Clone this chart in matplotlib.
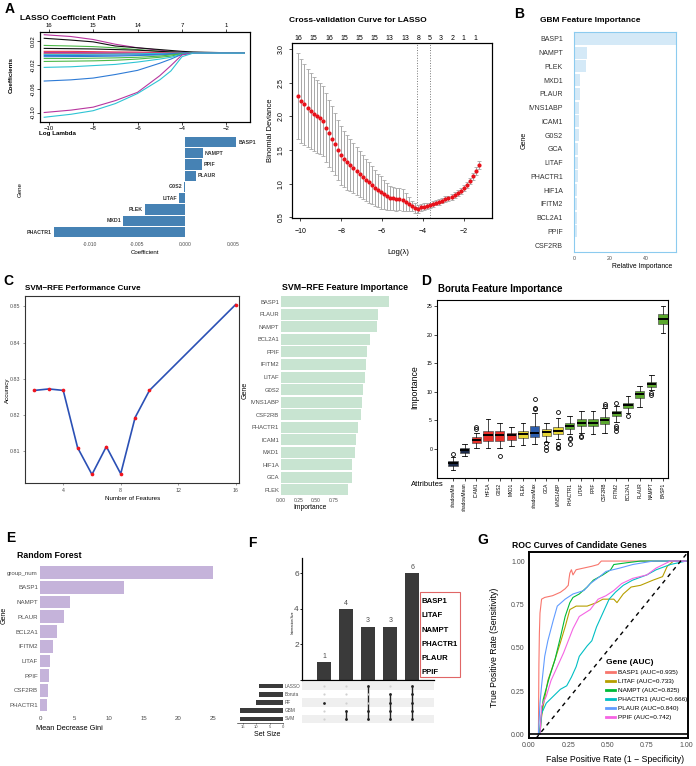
import matplotlib.pyplot as plt
import matplotlib.patches as patches
from matplotlib.lines import Line2D

plt.rcParams['font.family'] = ['Liberation Sans', 'DejaVu Sans']

# ---------------- DATA ----------------
# A: LASSO coefficient path (log lambda grid, one list per variable)
path_loglam = [-10.2, -9.0, -8.0, -7.0, -6.0, -5.0, -4.5, -4.0, -3.5, -3.0, -2.0, -1.2]
path_coefs = [
    [0.031, 0.028, 0.023, 0.015, 0.009, 0.005, 0.003, 0.0015, 0.0005, 0, 0, 0],
    [0.025, 0.022, 0.019, 0.012, 0.009, 0.006, 0.0045, 0.003, 0.002, 0.0015, 0.0007, 0],
    [0.013, 0.012, 0.011, 0.009, 0.006, 0.003, 0.002, 0.0005, 0, 0, 0, 0],
    [0.008, 0.0075, 0.007, 0.006, 0.005, 0.003, 0.002, 0.001, 0.0005, 0.0003, 0.0001, 0],
    [0.003, 0.003, 0.0025, 0.002, 0.0018, 0.001, 0.0005, 0.0001, 0, 0, 0, 0],
    [0.001, 0.001, 0.0008, 0.0005, 0.0003, 0.0001, 0, 0, 0, 0, 0, 0],
    [-0.001, -0.001, -0.0008, -0.0005, -0.0003, -0.0001, 0, 0, 0, 0, 0, 0],
    [-0.002, -0.002, -0.0018, -0.0015, -0.001, -0.0005, -0.0002, 0, 0, 0, 0, 0],
    [-0.004, -0.004, -0.0037, -0.0033, -0.0028, -0.002, -0.001, 0, 0, 0, 0, 0],
    [-0.006, -0.0058, -0.0055, -0.005, -0.004, -0.003, -0.002, -0.0005, 0, 0, 0, 0],
    [-0.009, -0.009, -0.0085, -0.008, -0.007, -0.005, -0.003, -0.001, 0, 0, 0, 0],
    [-0.014, -0.0135, -0.013, -0.012, -0.010, -0.007, -0.005, -0.001, 0, 0, 0, 0],
    [-0.024, -0.023, -0.021, -0.019, -0.015, -0.010, -0.007, -0.002, 0, 0, 0, 0],
    [-0.047, -0.045, -0.042, -0.036, -0.029, -0.017, -0.010, -0.002, 0, 0, 0, 0],
    [-0.100, -0.096, -0.091, -0.080, -0.066, -0.038, -0.021, -0.003, 0, 0, 0, 0],
    [-0.108, -0.103, -0.097, -0.085, -0.068, -0.045, -0.030, -0.006, 0, 0, 0, 0],
]
path_colors = ['#B8369F', '#111111', '#4CB848', '#111111', '#E8384F', '#B8369F', '#E8384F', '#2EC4D4',
               '#2E7BD6', '#2E7BD6', '#4CB848', '#4CB848', '#2EC4D4', '#2E7BD6', '#B8369F', '#2EC4D4']
path_top_nums = ['16', '15', '14', '7', '1']

# A: LASSO coefficients at lambda.min
lasso_genes = ['BASP1', 'NAMPT', 'PPIF', 'PLAUR', 'G0S2', 'LITAF', 'PLEK', 'MXD1', 'PHACTR1']
lasso_coef = [0.0054, 0.0019, 0.0018, 0.0011, -0.0001, -0.0006, -0.0042, -0.0065, -0.0138]

# A: cross-validation curve
cv_loglam = [-10.10, -9.95, -9.80, -9.65, -9.50, -9.35, -9.20, -9.05, -8.90, -8.75,
             -8.60, -8.45, -8.30, -8.15, -8.00, -7.85, -7.70, -7.55, -7.40, -7.25,
             -7.10, -6.95, -6.80, -6.65, -6.50, -6.35, -6.20, -6.05, -5.90, -5.75,
             -5.60, -5.45, -5.30, -5.15, -5.00, -4.85, -4.70, -4.55, -4.40, -4.25,
             -4.10, -3.95, -3.80, -3.65, -3.50, -3.35, -3.20, -3.05, -2.90, -2.75,
             -2.60, -2.45, -2.30, -2.15, -2.00, -1.85, -1.70, -1.55, -1.40, -1.25]
cv_mean = [2.30, 2.23, 2.18, 2.13, 2.08, 2.04, 2.00, 1.97, 1.93, 1.83,
           1.75, 1.67, 1.59, 1.50, 1.42, 1.37, 1.32, 1.28, 1.23, 1.19,
           1.14, 1.10, 1.06, 1.02, 0.98, 0.94, 0.90, 0.87, 0.84, 0.81,
           0.79, 0.78, 0.77, 0.77, 0.76, 0.73, 0.70, 0.67, 0.64, 0.63,
           0.65, 0.66, 0.67, 0.68, 0.70, 0.72, 0.73, 0.75, 0.77, 0.78,
           0.80, 0.83, 0.86, 0.89, 0.93, 0.98, 1.04, 1.11, 1.19, 1.28]
cv_sd = [0.64, 0.62, 0.60, 0.58, 0.57, 0.55, 0.54, 0.53, 0.52, 0.51,
         0.50, 0.48, 0.46, 0.45, 0.44, 0.42, 0.41, 0.39, 0.37, 0.36,
         0.34, 0.33, 0.31, 0.30, 0.28, 0.27, 0.25, 0.24, 0.22, 0.20,
         0.18, 0.17, 0.17, 0.16, 0.16, 0.13, 0.10, 0.08, 0.07, 0.06,
         0.05, 0.05, 0.045, 0.04, 0.04, 0.04, 0.04, 0.04, 0.04, 0.04,
         0.04, 0.04, 0.04, 0.045, 0.045, 0.05, 0.05, 0.055, 0.06, 0.06]
cv_top_pos = [-10.08, -9.35, -8.60, -7.84, -7.10, -6.38, -5.62, -4.88, -4.20, -3.69, -3.13, -2.57, -2.02, -1.43]
cv_top_nums = ['16', '15', '16', '15', '15', '15', '13', '13', '8', '5', '3', '2', '1', '1']
cv_lambda_min = -4.29
cv_lambda_1se = -3.67

# B: GBM relative influence
gbm_genes = ['BASP1', 'NAMPT', 'PLEK', 'MXD1', 'PLAUR', 'IVNS1ABP', 'ICAM1', 'G0S2',
             'GCA', 'LITAF', 'PHACTR1', 'HIF1A', 'IFITM2', 'BCL2A1', 'PPIF', 'CSF2RB']
gbm_imp = [57.0, 7.5, 6.5, 3.6, 3.2, 3.0, 2.8, 2.6, 2.5, 2.4, 2.1, 1.9, 1.7, 1.5, 1.4, 0.8]

# C: SVM-RFE
svm_nfeat = [2, 3, 4, 5, 6, 7, 8, 9, 10, 16]
svm_acc = [0.8268, 0.8272, 0.8268, 0.8110, 0.8036, 0.8113, 0.8038, 0.8193, 0.8268, 0.8505]
svm_genes = ['BASP1', 'PLAUR', 'NAMPT', 'BCL2A1', 'PPIF', 'IFITM2', 'LITAF', 'G0S2',
             'IVNS1ABP', 'CSF2RB', 'PHACTR1', 'ICAM1', 'MXD1', 'HIF1A', 'GCA', 'PLEK']
svm_imp = [1.54, 1.39, 1.37, 1.27, 1.23, 1.22, 1.21, 1.18, 1.16, 1.15, 1.10, 1.08, 1.06, 1.02, 1.02, 0.96]

# D: Boruta
boruta_attr = ['shadowMin', 'shadowMean', 'ICAM1', 'HIF1A', 'G0S2', 'MXD1', 'PLEK', 'shadowMax',
               'GCA', 'IVNS1ABP', 'PHACTR1', 'LITAF', 'PPIF', 'CSF2RB', 'IFITM2', 'BCL2A1',
               'PLAUR', 'NAMPT', 'BASP1']
boruta_status = ['shadowlow', 'shadowlow', 'Rejected', 'Rejected', 'Rejected', 'Rejected', 'Tentative',
                 'shadow', 'Tentative', 'Tentative', 'Confirmed', 'Confirmed', 'Confirmed', 'Confirmed',
                 'Confirmed', 'Confirmed', 'Confirmed', 'Confirmed', 'Confirmed']
boruta_q1 = [-2.95, -0.64, 1.05, 1.46, 1.46, 1.52, 1.93, 2.10, 2.28, 2.57, 3.45, 4.03, 4.03, 4.32, 5.72, 7.07, 8.82, 10.86, 21.79]
boruta_med = [-2.55, -0.18, 1.52, 2.39, 2.34, 2.34, 2.57, 2.80, 2.98, 3.15, 4.03, 4.61, 4.61, 5.02, 6.19, 7.65, 9.58, 11.33, 22.66]
boruta_q3 = [-2.20, 0.18, 1.99, 3.15, 3.10, 2.80, 3.15, 4.03, 3.45, 3.86, 4.44, 5.14, 5.14, 5.60, 6.60, 8.06, 10.16, 11.74, 23.54]
boruta_wlo = [-3.70, -1.17, 0.18, 0.18, 0.18, 0.47, 0.76, 0.93, 1.23, 1.64, 2.57, 2.80, 2.57, 2.69, 4.73, 6.30, 7.24, 10.28, 20.33]
boruta_whi = [-1.50, 0.93, 2.86, 5.20, 4.56, 3.86, 4.60, 6.20, 4.56, 5.43, 5.78, 6.66, 6.60, 7.10, 7.53, 9.29, 11.04, 12.97, 25.00]
boruta_out = [[-0.90], [], [3.56, 3.80], [], [-1.17], [], [], [6.95, 7.18, 8.70],
              [1.05, 0.35, -0.23], [6.43, 0.88, 0.35, 0.18], [1.93, 1.80, 0.93], [2.22, 1.99], [],
              [7.50, 7.90], [8.10, 4.00, 3.60, 3.20], [5.72], [], [9.70, 9.50], []]

# E: Random forest
rf_genes = ['group_num', 'BASP1', 'NAMPT', 'PLAUR', 'BCL2A1', 'IFITM2', 'LITAF', 'PPIF', 'CSF2RB', 'PHACTR1']
rf_gini = [25.0, 12.1, 4.4, 3.45, 2.4, 1.9, 1.4, 1.3, 1.15, 1.05]

# F: UpSet
upset_sets = ['LASSO', 'Boruta', 'RF', 'GBM', 'SVM']
upset_set_size = [9, 9, 10, 16, 16]
upset_counts = [1, 4, 3, 3, 6]
upset_members = [['RF'], ['GBM', 'SVM'], ['LASSO', 'GBM', 'SVM'],
                 ['Boruta', 'RF', 'GBM', 'SVM'], ['LASSO', 'Boruta', 'RF', 'GBM', 'SVM']]
common_genes = ['BASP1', 'LITAF', 'NAMPT', 'PHACTR1', 'PLAUR', 'PPIF']

# G: ROC curves (fpr, tpr vertices)
roc_names = ['BASP1', 'LITAF', 'NAMPT', 'PHACTR1', 'PLAUR', 'PPIF']
roc_auc = ['0.935', '0.733', '0.825', '0.666', '0.840', '0.742']
roc_colors = ['#F8766D', '#B79F00', '#00BA38', '#00BFC4', '#619CFF', '#F564E3']
roc_fpr = [
    [0.06, 0.063, 0.066, 0.07, 0.08, 0.10, 0.15, 0.20, 0.23, 0.25, 0.255, 0.26, 0.27, 0.28, 0.30, 0.35, 0.40, 0.44, 0.46, 0.50, 1.0],
    [0.07, 0.08, 0.09, 0.12, 0.165, 0.20, 0.23, 0.26, 0.30, 0.37, 0.43, 0.47, 0.54, 0.56, 0.60, 0.65, 0.71, 0.79, 0.85, 0.88, 0.92, 1.0],
    [0.065, 0.08, 0.09, 0.13, 0.165, 0.20, 0.23, 0.26, 0.28, 0.32, 0.37, 0.41, 0.47, 0.52, 0.54, 0.62, 0.71, 1.0],
    [0.07, 0.08, 0.11, 0.155, 0.20, 0.24, 0.27, 0.30, 0.32, 0.37, 0.40, 0.43, 0.47, 0.51, 0.55, 0.60, 0.66, 0.75, 0.81, 0.90, 1.0],
    [0.06, 0.07, 0.08, 0.10, 0.12, 0.155, 0.18, 0.23, 0.28, 0.35, 0.39, 0.45, 0.49, 0.58, 0.66, 0.79, 1.0],
    [0.07, 0.08, 0.11, 0.14, 0.18, 0.22, 0.25, 0.28, 0.32, 0.39, 0.44, 0.49, 0.54, 0.59, 0.66, 0.75, 0.81, 0.90, 1.0],
]
roc_tpr = [
    [0.0, 0.40, 0.58, 0.70, 0.78, 0.79, 0.80, 0.82, 0.84, 0.86, 0.90, 0.93, 0.95, 0.92, 0.95, 0.96, 0.97, 0.98, 1.0, 1.0, 1.0],
    [0.0, 0.10, 0.16, 0.31, 0.43, 0.53, 0.62, 0.72, 0.74, 0.74, 0.76, 0.78, 0.78, 0.76, 0.81, 0.85, 0.86, 0.89, 0.91, 0.97, 1.0, 1.0],
    [0.0, 0.12, 0.20, 0.33, 0.43, 0.56, 0.68, 0.76, 0.79, 0.81, 0.85, 0.89, 0.92, 0.95, 0.98, 0.99, 1.0, 1.0],
    [0.0, 0.12, 0.18, 0.22, 0.26, 0.28, 0.33, 0.39, 0.45, 0.51, 0.54, 0.62, 0.70, 0.78, 0.82, 0.86, 0.89, 0.92, 0.95, 0.98, 1.0],
    [0.0, 0.18, 0.28, 0.45, 0.54, 0.66, 0.74, 0.78, 0.81, 0.83, 0.87, 0.91, 0.94, 0.96, 0.98, 1.0, 1.0],
    [0.0, 0.16, 0.22, 0.31, 0.39, 0.47, 0.54, 0.61, 0.68, 0.72, 0.78, 0.80, 0.83, 0.87, 0.90, 0.92, 0.96, 1.0, 1.0],
]

# ---------------- LAYOUT HELPERS ----------------
W, H = 696, 766
GRAY = '#4D4D4D'
fig = plt.figure(figsize=(W / 100, H / 100), dpi=100)


def box(x0, y0, x1, y1):
    # axes from pixel corners (top-left origin)
    return fig.add_axes([x0 / W, 1 - y1 / H, (x1 - x0) / W, (y1 - y0) / H])


def ftext(x, y, s, **kw):
    kw.setdefault('ha', 'center')
    kw.setdefault('va', 'center')
    fig.text(x / W, 1 - y / H, s, **kw)


for lab, (lx, ly) in zip('ABCDEFG', [(10, 9), (519, 14), (8, 281), (426, 281), (11, 538), (252, 543), (483, 540)]):
    ftext(lx, ly, lab, fontsize=10, fontweight='bold')

# ---------------- A: coefficient path ----------------
ax = box(40, 32, 250, 122)
for vals, col in zip(path_coefs, path_colors):
    ax.plot(path_loglam, vals, color=col, lw=0.8)
ax.set_xlim(-10.39, -0.94)
ax.set_ylim(-0.116, 0.0356)
ax.set_xticks([-10, -8, -6, -4, -2])
ax.set_yticks([-0.10, -0.06, -0.02, 0.02])
ax.set_yticklabels(['-0.10', '-0.06', '-0.02', '0.02'], rotation=90, va='center')
ax.tick_params(labelsize=4.3, length=2, width=0.5, pad=1)
for s in ax.spines.values():
    s.set_linewidth(0.8)
top = ax.twiny()
top.set_xlim(ax.get_xlim())
top.set_xticks([-10, -8, -6, -4, -2])
top.set_xticklabels(path_top_nums)
top.tick_params(labelsize=4.3, length=2, width=0.5, pad=1)
ftext(20, 18, 'LASSO Coefficient Path', fontsize=6, fontweight='bold', ha='left')
ftext(11, 75, 'Coefficients', fontsize=4.5, fontweight='bold', rotation=90)
ftext(57, 133, 'Log Lambda', fontsize=4.5, fontweight='bold')

# ---------------- A: LASSO coefficient bars ----------------
ax = box(44, 135.25, 246, 238.75)
ax.barh(range(len(lasso_genes)), lasso_coef, height=0.9, color='#4682B4')
for i, (g, c) in enumerate(zip(lasso_genes, lasso_coef)):
    if c > 0:
        ax.text(c + 0.0002, i, g, ha='left', va='center', fontsize=3.8, fontweight='bold', color='#333333')
    else:
        ax.text(c - 0.0002, i, g, ha='right', va='center', fontsize=3.8, fontweight='bold', color='#333333')
ax.set_xlim(-0.0148, 0.0064)
ax.set_ylim(len(lasso_genes) - 0.4, -0.6)
ax.set_xticks([-0.010, -0.005, 0.0, 0.005])
ax.set_xticklabels(['-0.010', '-0.005', '0.000', '0.005'])
ax.set_yticks([])
ax.tick_params(labelsize=3.6, length=0, pad=2, labelcolor=GRAY)
for s in ax.spines.values():
    s.set_visible(False)
ftext(145, 252, 'Coefficient', fontsize=4.4)
ftext(20, 190, 'Gene', fontsize=4.4, rotation=90)

# ---------------- A: cross-validation curve ----------------
ax = box(292, 43, 492, 218)
ax.errorbar(cv_loglam, cv_mean, yerr=cv_sd, fmt='none', ecolor='#A8A8A8',
            elinewidth=0.7, capsize=1.6, capthick=0.6, zorder=1)
ax.scatter(cv_loglam, cv_mean, s=9, color='#E8121B', zorder=3, linewidths=0)
ax.axvline(cv_lambda_min, color='#777777', ls=':', lw=0.7)
ax.axvline(cv_lambda_1se, color='#777777', ls=':', lw=0.7)
ax.set_xlim(-10.41, -0.62)
ax.set_ylim(0.49, 3.09)
ax.set_xticks([-10, -8, -6, -4, -2])
ax.set_yticks([0.5, 1.0, 1.5, 2.0, 2.5, 3.0])
ax.set_yticklabels(['0.5', '1.0', '1.5', '2.0', '2.5', '3.0'], rotation=90, va='center')
ax.tick_params(axis='x', labelsize=5, length=2.5, width=0.5, pad=5)
ax.tick_params(axis='y', labelsize=5, length=2.5, width=0.5, pad=3)
for s in ax.spines.values():
    s.set_linewidth(0.8)
top = ax.twiny()
top.set_xlim(ax.get_xlim())
top.set_xticks(cv_top_pos)
top.set_xticklabels(cv_top_nums)
top.tick_params(labelsize=5, length=0, pad=1)
ftext(289, 21, 'Cross-validation Curve for LASSO', fontsize=6, fontweight='bold', ha='left')
ftext(271, 130, 'Binomial Deviance', fontsize=5.5, rotation=90)
ftext(398, 253, 'Log(λ)', fontsize=5.5)

# ---------------- B: GBM ----------------
ax = box(574, 32, 676, 252)
ax.barh(range(len(gbm_genes)), gbm_imp, height=0.86, color='#D4E9F7')
ax.set_xlim(0, 57)
ax.set_ylim(len(gbm_genes) - 0.5, -0.5)
ax.set_yticks(range(len(gbm_genes)))
ax.set_yticklabels(gbm_genes)
ax.set_xticks([0, 20, 40])
ax.tick_params(axis='y', labelsize=5, length=0, pad=8, labelcolor='#333333')
ax.tick_params(axis='x', labelsize=3.8, length=0, pad=3, labelcolor=GRAY)
for s in ax.spines.values():
    s.set_color('#8CCBEF')
    s.set_linewidth(0.8)
ftext(540, 21, 'GBM Feature Importance', fontsize=6, fontweight='bold', ha='left')
ftext(642, 267, 'Relative Importance', fontsize=4.9)
ftext(524, 140, 'Gene', fontsize=5, rotation=90)

# ---------------- C: SVM-RFE curve ----------------
ax = box(25, 296, 239, 483)
ax.plot(svm_nfeat, svm_acc, color='#2B50B5', lw=1.2, zorder=2)
ax.scatter(svm_nfeat, svm_acc, s=7, color='#F0141E', zorder=3, linewidths=0)
ax.set_xlim(1.34, 16.23)
ax.set_ylim(0.80125, 0.85285)
ax.set_xticks([4, 8, 12, 16])
ax.set_yticks([0.81, 0.82, 0.83, 0.84, 0.85])
ax.set_yticklabels(['0.81', '0.82', '0.83', '0.84', '0.85'])
ax.tick_params(labelsize=3.8, length=1.5, width=0.4, pad=2, labelcolor=GRAY, color=GRAY)
for s in ax.spines.values():
    s.set_color('#333333')
    s.set_linewidth(0.8)
ftext(25, 288, 'SVM−RFE Performance Curve', fontsize=5.9, fontweight='bold', ha='left')
ftext(7, 390, 'Accuracy', fontsize=4.5, rotation=90)
ftext(133, 498, 'Number of Features', fontsize=4.5)

# ---------------- C: SVM-RFE importance ----------------
ax = box(280.7, 294.2, 392.7, 497.5)
ax.barh(range(len(svm_genes)), svm_imp, height=0.88, color='#C8E4D1')
ax.set_xlim(0, 1.6)
ax.set_ylim(len(svm_genes) - 0.4, -0.6)
ax.set_yticks(range(len(svm_genes)))
ax.set_yticklabels(svm_genes)
ax.set_xticks([0, 0.25, 0.5, 0.75])
ax.set_xticklabels(['0.00', '0.25', '0.50', '0.75'])
ax.tick_params(axis='y', labelsize=4.2, length=0, pad=1, labelcolor=GRAY)
ax.tick_params(axis='x', labelsize=3.6, length=0, pad=0.5, labelcolor=GRAY)
for s in ax.spines.values():
    s.set_visible(False)
ftext(282, 288, 'SVM−RFE Feature Importance', fontsize=6.3, fontweight='bold', ha='left')
ftext(310, 507.5, 'Importance', fontsize=4.8)
ftext(245, 390, 'Gene', fontsize=5, rotation=90)

# ---------------- D: Boruta ----------------
status_col = {'shadowlow': '#1C2A4A', 'shadow': '#2C5DAD', 'Rejected': '#E8312A',
              'Tentative': '#E6D534', 'Confirmed': '#5BA82E'}
ax = box(437, 300, 668, 478)
stats = []
for i, name in enumerate(boruta_attr):
    stats.append({'med': boruta_med[i], 'q1': boruta_q1[i], 'q3': boruta_q3[i],
                  'whislo': boruta_wlo[i], 'whishi': boruta_whi[i], 'fliers': boruta_out[i], 'label': name})
bp = ax.bxp(stats, positions=range(1, len(stats) + 1), widths=0.8, patch_artist=True,
            medianprops=dict(color='black', lw=1.4),
            whiskerprops=dict(color='black', lw=0.5),
            capprops=dict(color='black', lw=0.6),
            boxprops=dict(lw=0.5, edgecolor='#555555'),
            flierprops=dict(marker='o', markersize=2.8, markerfacecolor='none', markeredgecolor='black', markeredgewidth=0.6))
for patch, st in zip(bp['boxes'], boruta_status):
    patch.set_facecolor(status_col[st])
ax.set_xlim(-0.37, 19.43)
ax.set_ylim(-5.1, 26.05)
ax.set_yticks([0, 5, 10, 15, 20, 25])
ax.set_xticklabels(boruta_attr, rotation=90)
ax.tick_params(axis='x', labelsize=3.4, length=2, width=0.5, pad=1.5)
ax.tick_params(axis='y', labelsize=3.7, length=2, width=0.5, pad=1.5)
for s in ax.spines.values():
    s.set_linewidth(0.8)
ftext(438, 289, 'Boruta Feature Importance', fontsize=7, fontweight='bold', ha='left')
ftext(415, 387, 'Importance', fontsize=6.3, rotation=90)
ftext(427, 485, 'Attributes', fontsize=5.5)

# ---------------- E: Random forest ----------------
ax = box(40, 563.9, 215, 713.8)
ax.barh(range(len(rf_genes)), rf_gini, height=0.86, color='#C5B3DA')
ax.set_xlim(0, 25.3)
ax.set_ylim(len(rf_genes) - 0.4, -0.6)
ax.set_yticks(range(len(rf_genes)))
ax.set_yticklabels(rf_genes)
ax.set_xticks([0, 5, 10, 15, 20, 25])
ax.tick_params(labelsize=4.4, length=0, pad=1.5, labelcolor=GRAY)
for s in ax.spines.values():
    s.set_visible(False)
ftext(17, 555, 'Random Forest', fontsize=6.3, fontweight='bold', ha='left')
ftext(36, 729, 'Mean Decrease Gini', fontsize=5.3, ha='left')
ftext(4, 615, 'Gene', fontsize=5, rotation=90)

# ---------------- F: UpSet ----------------
xl = (-1.01, 5.0)
ax = box(301.7, 558, 434.3, 680)
ax.bar(range(len(upset_counts)), upset_counts, width=0.63, color='#3A3A3A')
for i, c in enumerate(upset_counts):
    ax.text(i, c + 0.12, str(c), ha='center', va='bottom', fontsize=5, color=GRAY)
ax.set_xlim(xl)
ax.set_ylim(0, 6.85)
ax.set_yticks([0, 2, 4, 6])
ax.set_yticklabels(['', '2', '4', '6'])
ax.set_xticks([])
ax.tick_params(axis='y', labelsize=6, length=1.5, width=0.6, pad=0.5, labelcolor=GRAY)
ax.spines['top'].set_visible(False)
ax.spines['right'].set_visible(False)
ax.spines['left'].set_linewidth(0.9)
ax.spines['bottom'].set_linewidth(0.9)
ftext(293, 623, 'Intersection Size', fontsize=2.2, rotation=90)

# matrix
axm = box(301.7, 682, 434.3, 723)
axm.set_xlim(xl)
axm.set_ylim(len(upset_sets) - 0.5, -0.5)
for r in range(len(upset_sets)):
    if r % 2 == 0:
        axm.axhspan(r - 0.5, r + 0.5, color='#EFEFEF', lw=0, zorder=0)
for i, members in enumerate(upset_members):
    rows = [upset_sets.index(m) for m in members]
    for r in range(len(upset_sets)):
        on = r in rows
        axm.scatter(i, r, s=4 if on else 2.5, color='#222222' if on else '#D0D0D0', zorder=3, linewidths=0)
    if len(rows) > 1:
        axm.plot([i, i], [min(rows), max(rows)], color='#222222', lw=1, zorder=2)
axm.axis('off')

# set sizes
axs = box(237.2, 682, 283.3, 723)
axs.barh(range(len(upset_sets)), upset_set_size, height=0.57, color='#3A3A3A')
axs.set_xlim(17, 0)
axs.set_ylim(len(upset_sets) - 0.5, -0.5)
axs.set_yticks([])
axs.set_xticks([0, 5, 10, 15])
axs.tick_params(axis='x', labelsize=3, length=1, width=0.4, pad=0.5, labelcolor=GRAY)
for s in ['top', 'left', 'right']:
    axs.spines[s].set_visible(False)
axs.spines['bottom'].set_linewidth(0.4)
for r, name in enumerate(upset_sets):
    ftext(285, 686 + r * 8.2, name, fontsize=3.4, color=GRAY, ha='left')
ftext(267, 734, 'Set Size', fontsize=5)

# gene list box
rect = patches.Rectangle((420 / W, 1 - 677 / H), 40 / W, 85 / H, transform=fig.transFigure,
                         fill=False, edgecolor='#E06666', lw=0.8)
fig.patches.append(rect)
for k, g in enumerate(common_genes):
    ftext(421.5, 601.7 + k * 14.2, g, fontsize=5.6, fontweight='bold', ha='left')

# ---------------- G: ROC ----------------
ax = box(529, 551.7, 688.3, 738.3)
for fx, ty, col in zip(roc_fpr, roc_tpr, roc_colors):
    ax.plot(fx, ty, color=col, lw=0.8)
ax.plot([0.045, 1.014], [-0.023, 1.054], color='black', lw=1.0, ls=(0, (3, 3)))
ax.axhline(0, color='black', lw=1.2)
ax.set_xlim(0, 1.014)
ax.set_ylim(-0.023, 1.054)
ax.set_xticks([0, 0.25, 0.5, 0.75, 1.0])
ax.set_xticklabels(['0.00', '0.25', '0.50', '0.75', '1.00'])
ax.set_yticks([0, 0.25, 0.5, 0.75, 1.0])
ax.set_yticklabels(['0.00', '0.25', '0.50', '0.75', '1.00'])
ax.tick_params(labelsize=5, length=0, pad=3, labelcolor=GRAY)
for s in ax.spines.values():
    s.set_linewidth(1.4)
handles = [Line2D([0], [0], color=c, lw=2) for c in roc_colors]
labels = [f'{n} (AUC={a})' for n, a in zip(roc_names, roc_auc)]
ax.legend(handles, labels, title='Gene (AUC)', loc='upper left',
          bbox_to_anchor=(603 / W, 1 - 656 / H), bbox_transform=fig.transFigure,
          frameon=False, fontsize=4.6, title_fontproperties={'weight': 'bold', 'size': 6},
          handlelength=1.3, handletextpad=0.5, labelspacing=0.55, borderpad=0, alignment='left')
ftext(512, 545, 'ROC Curves of Candidate Genes', fontsize=6.2, fontweight='bold', ha='left')
ftext(495, 647, 'True Positive Rate (Sensitivity)', fontsize=6.3, rotation=90)
ftext(615, 760, 'False Positive Rate (1 − Specificity)', fontsize=6.3)

fig.savefig('out.png', dpi=100)
